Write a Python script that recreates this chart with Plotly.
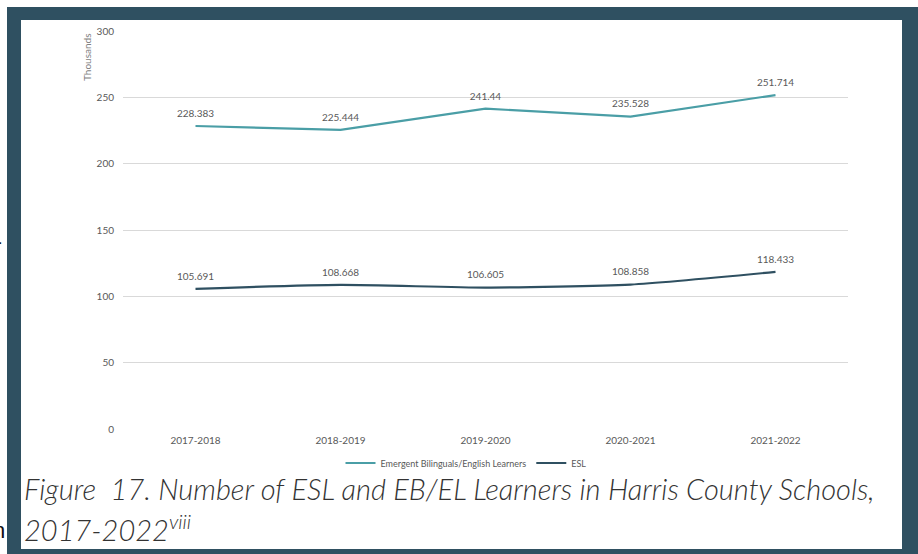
import plotly.graph_objects as go

# School years and enrollment counts (in thousands)
years = ["2017-2018", "2018-2019", "2019-2020", "2020-2021", "2021-2022"]
eb_el = [228.383, 225.444, 241.44, 235.528, 251.714]
esl = [105.691, 108.668, 106.605, 108.858, 118.433]
y_ticks = [0, 50, 100, 150, 200, 250, 300]

W, H = 918, 554
TEAL = "#4a9ea6"
SLATE = "#2f5061"
GRAY = "#595959"
FONT = "Lato, sans-serif"


def px(x):
    return x / W


def py(y):
    return 1 - y / H


def fmt(v):
    return f"{v:g}"


# transparent markers lift the value labels a little above the line
hidden_marker = dict(size=9, color="rgba(0,0,0,0)")

fig = go.Figure()
fig.add_trace(go.Scatter(
    x=years, y=eb_el, mode="lines+markers+text", name="Emergent Bilinguals/English Learners",
    line=dict(color=TEAL, width=2.2), marker=hidden_marker,
    text=[fmt(v) for v in eb_el], textposition="top center",
    textfont=dict(family=FONT, size=10, color=GRAY),
))
fig.add_trace(go.Scatter(
    x=years, y=esl, mode="lines+markers+text", name="ESL",
    line=dict(color=SLATE, width=2.2, shape="spline", smoothing=0.6), marker=hidden_marker,
    text=[fmt(v) for v in esl], textposition="top center",
    textfont=dict(family=FONT, size=10, color=GRAY),
))

shapes = [
    # dark frame with white panel inside
    dict(type="rect", xref="paper", yref="paper", x0=px(7), x1=px(W + 5),
         y0=py(H + 5), y1=py(7), fillcolor=SLATE, line_width=0, layer="below"),
    dict(type="rect", xref="paper", yref="paper", x0=px(21), x1=px(902),
         y0=py(549), y1=py(20), fillcolor="white", line_width=0, layer="below"),
]

caption_font = dict(family=FONT, size=29, color="#333333", style="italic", weight=300)

annotations = [
    dict(text="Thousands", x=px(87), y=py(58), xref="paper", yref="paper",
         xanchor="center", yanchor="middle",
         textangle=-90, showarrow=False,
         font=dict(family=FONT, size=10, color="#7f7f7f")),
    dict(text="Figure  17. Number of ESL and EB/EL Learners in Harris County Schools,",
         x=px(22), y=py(469), xref="paper", yref="paper", xanchor="left", yanchor="top",
         showarrow=False, font=caption_font),
    dict(text="2017-2022<sup>viii</sup>",
         x=px(22), y=py(507), xref="paper", yref="paper", xanchor="left", yanchor="top",
         showarrow=False, font=caption_font),
    dict(text="n", x=px(7), y=py(530), xref="paper", yref="paper",
         xanchor="right", yanchor="middle", showarrow=False,
         font=dict(family="Liberation Sans, sans-serif", size=22, color="#111111")),
    dict(text=".", x=px(4), y=py(238), xref="paper", yref="paper",
         xanchor="right", yanchor="middle", showarrow=False,
         font=dict(family="Liberation Sans, sans-serif", size=16, color="#111111")),
]

fig.update_layout(
    width=W, height=H, margin=dict(l=0, r=0, t=0, b=0, autoexpand=False),
    paper_bgcolor="white", plot_bgcolor="white",
    shapes=shapes, annotations=annotations,
    showlegend=True,
    legend=dict(orientation="h", x=px(466), y=py(463), xanchor="center", yanchor="middle",
                font=dict(family=FONT, size=9, color=GRAY),
                itemwidth=30, bgcolor="rgba(0,0,0,0)"),
    xaxis=dict(domain=[px(123), px(848)], range=[-0.5, 4.5], type="category",
               showgrid=False, zeroline=False, showline=False, ticks="",
               ticklabelstandoff=4,
               tickfont=dict(family=FONT, size=10, color=GRAY),
               automargin=False, anchor="y"),
    yaxis=dict(domain=[py(429), py(31)], range=[0, 300], tickvals=y_ticks,
               showgrid=True, gridcolor="#d9d9d9", gridwidth=1, zeroline=False,
               showline=False, ticks="", ticklabelstandoff=8,
               tickfont=dict(family=FONT, size=10, color=GRAY),
               automargin=False, anchor="x"),
)

fig.write_html("out.html")
